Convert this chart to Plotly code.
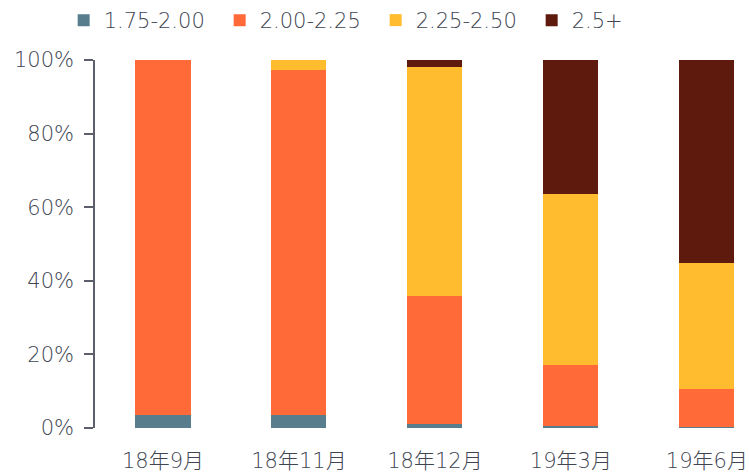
import plotly.graph_objects as go

categories = ["18年9月", "18年11月", "18年12月", "19年3月", "19年6月"]
series_names = ["1.75-2.00", "2.00-2.25", "2.25-2.50", "2.5+"]
s_175_200 = [3.5, 3.5, 1.1, 0.5, 0.3]
s_200_225 = [96.5, 93.8, 34.8, 16.6, 10.3]
s_225_250 = [0.0, 2.7, 62.2, 46.5, 34.2]
s_250_plus = [0.0, 0.0, 1.9, 36.4, 55.2]
colors = ["#587d8d", "#ff6a38", "#ffbc2e", "#5e1a0d"]
tick_vals = [0, 20, 40, 60, 80, 100]
tick_text = ["0%", "20%", "40%", "60%", "80%", "100%"]

font_family = "DejaVu Sans, Noto Sans CJK SC"
text_color = "#404552"

fig = go.Figure()
for name, vals, col in zip(series_names, [s_175_200, s_200_225, s_225_250, s_250_plus], colors):
    fig.add_trace(go.Bar(
        x=categories, y=vals, name=name,
        marker=dict(color=col, line=dict(width=0)),
    ))

fig.update_layout(
    width=749, height=476,
    barmode="stack", bargap=0.595,
    plot_bgcolor="white", paper_bgcolor="white",
    margin=dict(l=95, r=0, t=60, b=48, autoexpand=False),
    font=dict(family=font_family, size=21, color=text_color, weight=200),
    legend=dict(
        orientation="h", x=0.085, xanchor="left", xref="container",
        y=1.0, yanchor="top", yref="container",
        font=dict(size=21, color=text_color, weight=200),
        entrywidth=111, entrywidthmode="pixels", traceorder="normal",
        bgcolor="rgba(0,0,0,0)",
    ),
    showlegend=True,
)
fig.update_xaxes(
    range=[-0.5, 4.31], showgrid=False, showline=False, ticks="",
    ticklabelstandoff=18,
    tickfont=dict(size=21, color=text_color, weight=200),
)
fig.update_yaxes(
    range=[0, 100], tickvals=tick_vals, ticktext=tick_text,
    showgrid=False, showline=True, linecolor="#5a5f6b", linewidth=1.5,
    ticks="outside", ticklen=9, tickcolor="#5a5f6b", tickwidth=1.5,
    ticklabelstandoff=6,
    tickfont=dict(size=21, color=text_color, weight=200), zeroline=False,
)

fig.write_html("out.html")
